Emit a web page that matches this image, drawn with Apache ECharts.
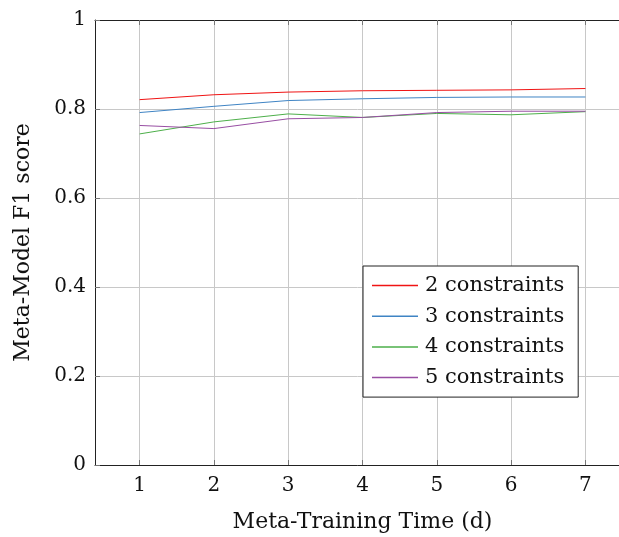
<!DOCTYPE html>
<html>
<head>
<meta charset="utf-8">
<script src="https://cdn.jsdelivr.net/npm/echarts@6/dist/echarts.min.js"></script>
<style>
html,body{margin:0;padding:0;background:#fff;overflow:hidden;}
#c{width:619px;height:537px;}
</style>
</head>
<body>
<div id="c"></div>
<script>
const days = [1, 2, 3, 4, 5, 6, 7];
const c2 = [0.821, 0.832, 0.838, 0.841, 0.842, 0.843, 0.846];
const c3 = [0.792, 0.806, 0.819, 0.823, 0.826, 0.827, 0.827];
const c4 = [0.744, 0.771, 0.789, 0.781, 0.790, 0.787, 0.794];
const c5 = [0.763, 0.756, 0.778, 0.781, 0.792, 0.795, 0.795];
const seriesNames = ['2 constraints', '3 constraints', '4 constraints', '5 constraints'];
const seriesData = [c2, c3, c4, c5];
const colors = ['#f01414', '#3f84c4', '#4daf4a', '#984ea3'];
const xTicks = [1, 2, 3, 4, 5, 6, 7];

const font = 'DejaVu Serif';
const chart = echarts.init(document.getElementById('c'), null, {renderer: 'canvas'});

const xCommon = {
  type: 'value', min: 0.4, max: 7.6,
  axisLine: {show: true, lineStyle: {color: '#222', width: 1}},
  axisTick: {show: true, inside: true, length: 5, customValues: xTicks, lineStyle: {color: '#777'}},
  splitLine: {show: true, lineStyle: {color: '#c8c8c8', width: 1}}
};

chart.setOption({
  animation: false,
  backgroundColor: '#fff',
  color: colors,
  grid: {left: 95, width: 535, top: 20, height: 445, outerBoundsMode: 'none', containLabel: false, show: false},
  xAxis: [
    Object.assign({}, xCommon, {
      position: 'bottom',
      name: 'Meta-Training Time (d)', nameLocation: 'middle', nameGap: 46,
      nameTextStyle: {fontFamily: font, fontSize: 22, color: '#111'},
      axisLabel: {customValues: xTicks, fontFamily: font, fontSize: 20, color: '#111', margin: 11}
    }),
    Object.assign({}, xCommon, {
      position: 'top', axisLabel: {show: false}, splitLine: {show: false}
    })
  ],
  yAxis: [{
    type: 'value', min: 0, max: 1, interval: 0.2,
    name: 'Meta-Model F1 score', nameLocation: 'middle', nameGap: 61,
    nameTextStyle: {fontFamily: font, fontSize: 22, color: '#111'},
    axisLine: {show: true, lineStyle: {color: '#222', width: 1}},
    axisTick: {show: true, inside: true, length: 5, lineStyle: {color: '#777'}},
    axisLabel: {fontFamily: font, fontSize: 20, color: '#111', margin: 9},
    splitLine: {show: true, lineStyle: {color: '#c8c8c8', width: 1}}
  }],
  legend: {
    orient: 'vertical', left: 363, top: 266,
    padding: [9, 14, 9, 9],
    icon: 'rect', itemWidth: 46, itemHeight: 1.5, itemGap: 9.7,
    borderColor: '#222', borderWidth: 1, backgroundColor: '#fff',
    itemStyle: {borderWidth: 0},
    textStyle: {fontFamily: font, fontSize: 21, lineHeight: 21, color: '#111', padding: [0, 0, 0, 2]},
    data: seriesNames.map((n, i) => ({name: n, itemStyle: {color: colors[i], borderWidth: 0}}))
  },
  series: seriesNames.map((n, i) => ({
    name: n, type: 'line', symbol: 'none', showSymbol: false,
    lineStyle: {width: 1, color: colors[i]},
    itemStyle: {color: colors[i]},
    data: days.map((d, j) => [d, seriesData[i][j]])
  }))
});
</script>
</body>
</html>
